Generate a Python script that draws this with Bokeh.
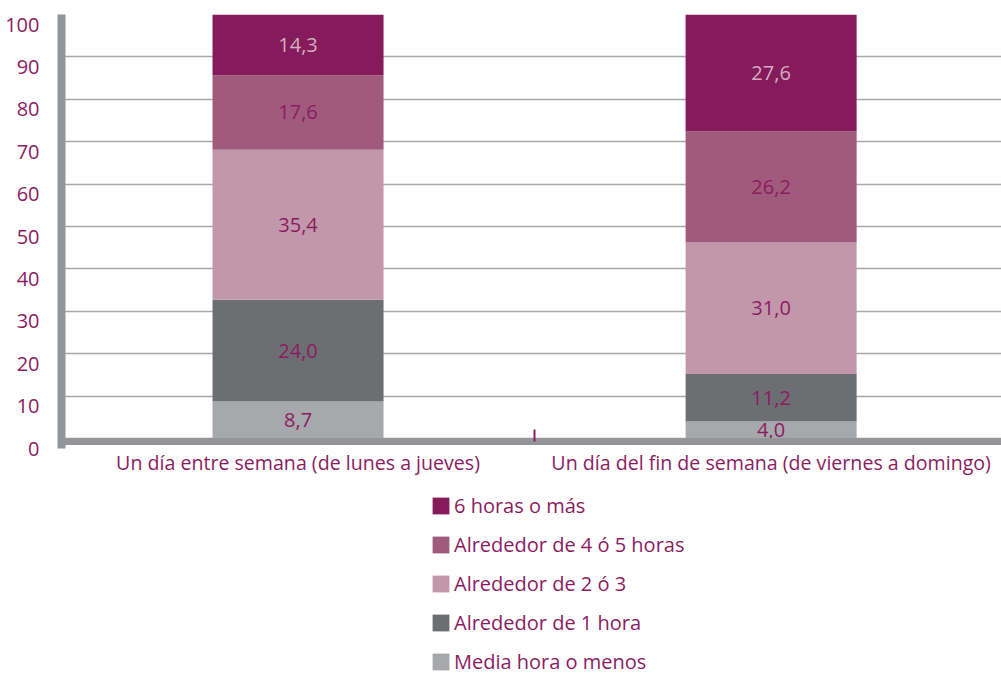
from bokeh.plotting import figure
from bokeh.models import (Range1d, FixedTicker, Legend, LegendItem, ColumnDataSource, Grid)
from bokeh.core.properties import value
from bokeh.embed import file_html
from bokeh.resources import INLINE

categories = ["Un día entre semana (de lunes a jueves)",
              "Un día del fin de semana (de viernes a domingo)"]
series_names = ["Media hora o menos", "Alrededor de 1 hora", "Alrededor de 2 ó 3",
                "Alrededor de 4 ó 5 horas", "6 horas o más"]
media = [8.7, 4.0]
una = [24.0, 11.2]
dos_tres = [35.4, 31.0]
cuatro_cinco = [17.6, 26.2]
seis = [14.3, 27.6]
y_ticks = [0, 10, 20, 30, 40, 50, 60, 70, 80, 90, 100]

colors = ["#A7A8AB", "#6D6E72", "#C297A9", "#A05A7C", "#851B5B"]
label_colors = ["#8B1C62", "#8B1C62", "#8B1C62", "#8B1C62", "#D2AEC0"]
TXT = "#8B1C62"
FONT = "Open Sans"

W, H = 1001, 675
TOP = 14
PX_PER_UNIT = 4.24
Y0 = 100 - (H - TOP) / PX_PER_UNIT   # frame reaches the bottom (legend lives inside it)
LAB_SHIFT = 2.36                      # tick labels sit slightly below their gridlines

p = figure(width=W, height=H, output_backend="svg", toolbar_location=None,
           x_range=Range1d(0, 1.987), y_range=Range1d(Y0, 100),
           min_border_left=61, min_border_right=0, min_border_top=TOP,
           min_border_bottom=0)
p.extra_y_ranges = {"lab": Range1d(Y0 + LAB_SHIFT, 100 + LAB_SHIFT)}
p.outline_line_color = None
p.background_fill_color = "white"
p.border_fill_color = "white"

xs = [i + 0.5 for i in range(len(categories))]
series = [media, una, dos_tres, cuatro_cinco, seis]
bottoms = [0.0] * len(categories)
renderers = []
for vals, col, lc in zip(series, colors, label_colors):
    tops = [b + v for b, v in zip(bottoms, vals)]
    src = ColumnDataSource(dict(x=xs, bottom=bottoms, top=tops,
                                mid=[(b + t) / 2 for b, t in zip(bottoms, tops)],
                                lab=[f"{v:.1f}".replace(".", ",") for v in vals]))
    r = p.vbar(x="x", bottom="bottom", top="top", width=0.3615, source=src,
               fill_color=col, line_color=None)
    p.text(x="x", y="mid", text="lab", source=src, text_align="center",
           text_baseline="middle", text_color=lc, text_font=value(FONT),
           text_font_size="20px")
    renderers.append(r)
    bottoms = tops

# y axis (labels on shifted range, rule limited to the chart body)
ya = p.yaxis[0]
ya.y_range_name = "lab"
ya.bounds = (0, 100 + LAB_SHIFT)
ya.ticker = FixedTicker(ticks=y_ticks)
ya.axis_line_color = "#939598"
ya.axis_line_width = 8
ya.major_tick_line_color = None
ya.minor_tick_line_color = None
ya.major_label_standoff = 16
ya.major_label_text_color = TXT
ya.major_label_text_font = FONT
ya.major_label_text_font_size = "20px"

# x axis drawn just under zero
xa = p.xaxis[0]
xa.fixed_location = -0.7
xa.ticker = FixedTicker(ticks=xs, minor_ticks=[1.0])
xa.major_label_overrides = {x: c for x, c in zip(xs, categories)}
xa.axis_line_color = "#939598"
xa.axis_line_width = 7
xa.axis_line_cap = "square"
xa.major_tick_line_color = None
xa.minor_tick_line_color = TXT
xa.minor_tick_line_width = 2
xa.minor_tick_in = 12
xa.minor_tick_out = 0
xa.major_label_standoff = 2
xa.major_label_text_color = TXT
xa.major_label_text_font = FONT
xa.major_label_text_font_size = "19.6px"

p.xgrid.visible = False
p.ygrid.visible = False
p.add_layout(Grid(dimension=1, ticker=FixedTicker(ticks=y_ticks),
                  grid_line_color="#A8A8A8", grid_line_width=1.3))

items = [LegendItem(label=n, renderers=[r]) for n, r in zip(series_names, renderers)][::-1]
legend = Legend(items=items, location=(369, 0), padding=0, margin=0,
                border_line_color=None, background_fill_alpha=0,
                glyph_width=21, glyph_height=21, label_height=17, spacing=12,
                label_standoff=3, label_text_color=TXT, label_text_font=FONT,
                label_text_font_size="20px")
p.add_layout(legend, "center")

open("out.html", "w").write(file_html(p, INLINE))
